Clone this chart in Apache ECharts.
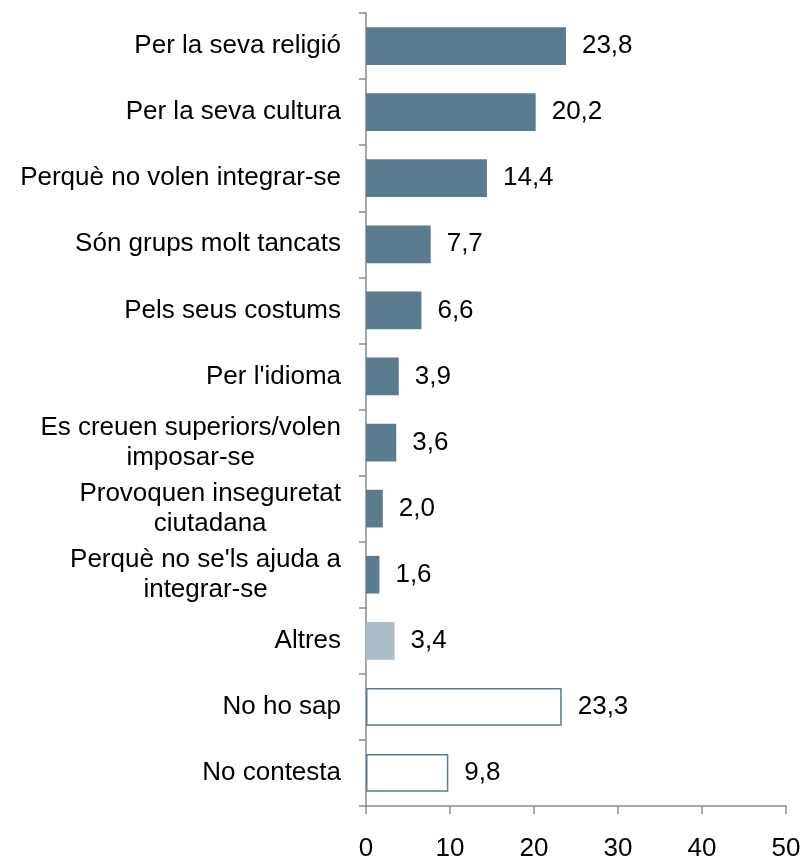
<!DOCTYPE html>
<html>
<head>
<meta charset="utf-8">
<script src="https://cdn.jsdelivr.net/npm/echarts@6/dist/echarts.min.js"></script>
<style>
  html, body { margin: 0; padding: 0; background: #ffffff; }
  #chart { width: 804px; height: 858px; }
</style>
</head>
<body>
<div id="chart"></div>
<script>
// Reasons given, top to bottom
const categories = [
  'Per la seva religió',
  'Per la seva cultura',
  'Perquè no volen integrar-se',
  'Són grups molt tancats',
  'Pels seus costums',
  "Per l'idioma",
  'Es creuen superiors/volen\nimposar-se',
  'Provoquen inseguretat\nciutadana',
  "Perquè no se'ls ajuda a\nintegrar-se",
  'Altres',
  'No ho sap',
  'No contesta'
];
// Percentages
const values = [23.8, 20.2, 14.4, 7.7, 6.6, 3.9, 3.6, 2.0, 1.6, 3.4, 23.3, 9.8];
// Bar style group per category: 'main', 'other', 'nr' (no answer, outlined)
const groups = ['main', 'main', 'main', 'main', 'main', 'main', 'main', 'main', 'main', 'other', 'nr', 'nr'];
const xTicks = [0, 10, 20, 30, 40, 50];

const DARK = '#5b7b8e';
const LIGHT = '#adbdc8';
const FONT = 'Liberation Sans, Arial, sans-serif';
const FS = 26;

const seriesData = values.map((v, i) => {
  const g = groups[i];
  let itemStyle;
  if (g === 'main') itemStyle = { color: DARK };
  else if (g === 'other') itemStyle = { color: LIGHT };
  else itemStyle = { color: '#ffffff', borderColor: DARK, borderWidth: 1.5 };
  return { value: v, itemStyle };
});

const chart = echarts.init(document.getElementById('chart'), null, { renderer: 'canvas' });
chart.setOption({
  animation: false,
  backgroundColor: '#ffffff',
  grid: { left: 366, right: 18, top: 13, bottom: 52, containLabel: false, outerBoundsMode: 'none' },
  xAxis: {
    type: 'value',
    min: xTicks[0],
    max: xTicks[xTicks.length - 1],
    interval: 10,
    splitLine: { show: false },
    axisLine: { show: true, lineStyle: { color: '#8a8a8a', width: 1.5 } },
    axisTick: { show: true, length: 8, lineStyle: { color: '#8a8a8a', width: 1.5 } },
    axisLabel: { margin: 30, fontFamily: FONT, fontSize: FS, color: '#000000' }
  },
  yAxis: {
    type: 'category',
    inverse: true,
    data: categories,
    axisLine: { show: true, lineStyle: { color: '#8a8a8a', width: 1.5 } },
    axisTick: { show: true, length: 7, lineStyle: { color: '#8a8a8a', width: 1.5 } },
    axisLabel: {
      margin: 25,
      fontFamily: FONT,
      fontSize: FS,
      color: '#000000',
      lineHeight: 30,
      formatter: (s) => s.split('\n').map(l => '{c|' + l + '}').join('\n'),
      rich: {
        c: { align: 'center', fontFamily: FONT, fontSize: FS, color: '#000000', lineHeight: 30 }
      }
    }
  },
  series: [{
    type: 'bar',
    data: seriesData,
    barCategoryGap: '43%',
    label: {
      show: true,
      position: 'right',
      distance: 16,
      fontFamily: FONT,
      fontSize: FS,
      color: '#000000',
      formatter: (p) => p.value.toFixed(1).replace('.', ',')
    }
  }]
});
</script>
</body>
</html>
